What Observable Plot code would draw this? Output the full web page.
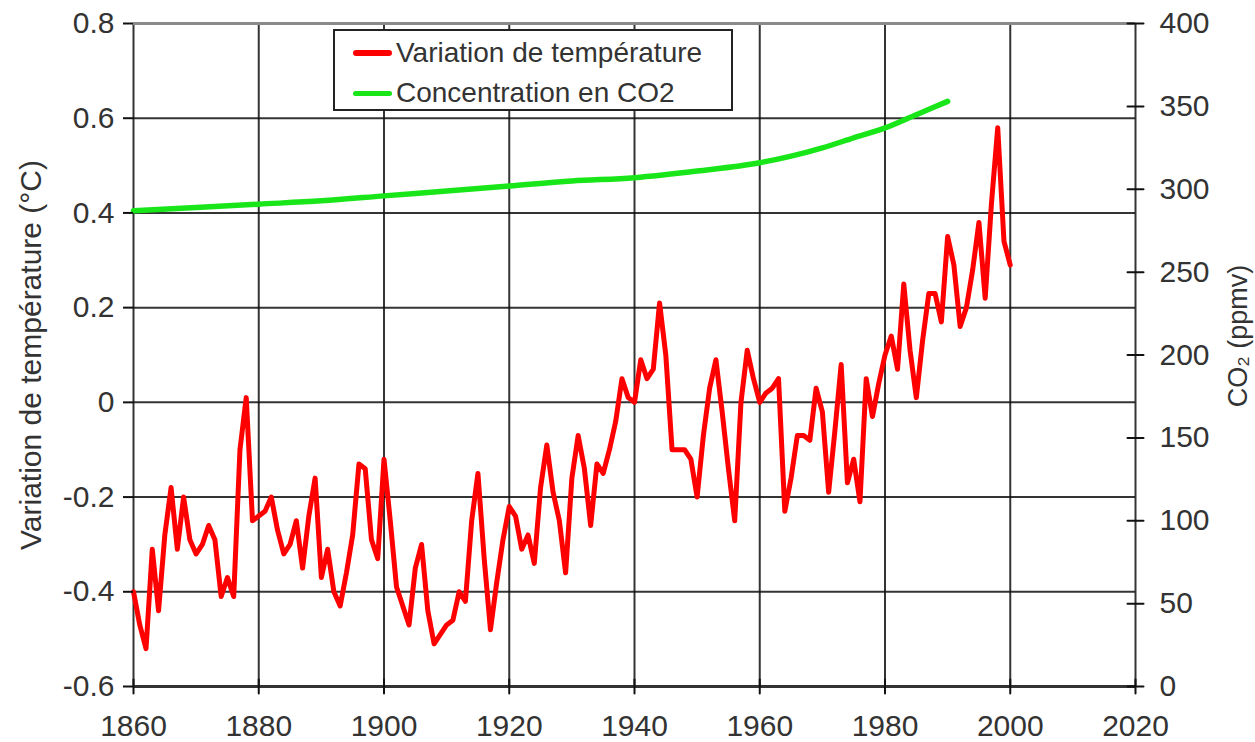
<!DOCTYPE html>
<html>
<head>
<meta charset="utf-8">
<script src="https://cdn.jsdelivr.net/npm/d3@7"></script>
<script src="https://cdn.jsdelivr.net/npm/@observablehq/plot@0.6"></script>
<style>
  body { margin: 0; background: #fff; }
  #wrap { position: relative; width: 1255px; height: 742px; }
  #legend {
    position: absolute; left: 333px; top: 29px; width: 400px; height: 82px;
    box-sizing: border-box; border: 2px solid #222; background: #fff;
    font-family: "Liberation Sans", Arial, sans-serif; font-size: 28px; color: #333;
  }
  .row { position: absolute; left: 18px; display: flex; align-items: center; height: 30px; white-space: nowrap; }
  .sw { width: 39px; height: 5px; margin-right: 4px; border-radius: 3px; }
</style>
</head>
<body>
<div id="wrap">
  <div id="chart"></div>
  <div id="legend">
    <div class="row" style="top:7px"><span class="sw" style="background:#ff0000;height:6px"></span><span id="l1"></span></div>
    <div class="row" style="top:47px"><span class="sw" style="background:#19e619"></span><span id="l2"></span></div>
  </div>
</div>
<script>
// ---- data ----
const tempStartYear = 1860;
const temperature = [
  -0.40,-0.47,-0.52,-0.31,-0.44,-0.28,-0.18,-0.31,-0.20,-0.29,
  -0.32,-0.30,-0.26,-0.29,-0.41,-0.37,-0.41,-0.10, 0.01,-0.25,
  -0.24,-0.23,-0.20,-0.27,-0.32,-0.30,-0.25,-0.35,-0.24,-0.16,
  -0.37,-0.31,-0.40,-0.43,-0.36,-0.28,-0.13,-0.14,-0.29,-0.33,
  -0.12,-0.25,-0.39,-0.43,-0.47,-0.35,-0.30,-0.44,-0.51,-0.49,
  -0.47,-0.46,-0.40,-0.42,-0.25,-0.15,-0.33,-0.48,-0.38,-0.29,
  -0.22,-0.24,-0.31,-0.28,-0.34,-0.18,-0.09,-0.19,-0.25,-0.36,
  -0.16,-0.07,-0.14,-0.26,-0.13,-0.15,-0.10,-0.04, 0.05, 0.01,
   0.00, 0.09, 0.05, 0.07, 0.21, 0.10,-0.10,-0.10,-0.10,-0.12,
  -0.20,-0.07, 0.03, 0.09,-0.02,-0.14,-0.25, 0.00, 0.11, 0.05,
   0.00, 0.02, 0.03, 0.05,-0.23,-0.16,-0.07,-0.07,-0.08, 0.03,
  -0.02,-0.19,-0.06, 0.08,-0.17,-0.12,-0.21, 0.05,-0.03, 0.04,
   0.10, 0.14, 0.07, 0.25, 0.11, 0.01, 0.13, 0.23, 0.23, 0.17,
   0.35, 0.29, 0.16, 0.20, 0.28, 0.38, 0.22, 0.42, 0.58, 0.34,
   0.29
];
const co2Years  = [1860,1870,1880,1890,1900,1910,1920,1930,1940,1950,1960,1965,1970,1975,1980,1985,1990];
const co2Values = [ 287, 289, 291, 293, 296, 299, 302, 305, 307, 311, 316, 320, 325, 331, 337, 345, 353];

const xTicks   = [1860,1880,1900,1920,1940,1960,1980,2000,2020];
const yTicks   = [-0.6,-0.4,-0.2,0,0.2,0.4,0.6,0.8];
const co2Ticks = [0,50,100,150,200,250,300,350,400];

const yTitle   = "Variation de température (°C)";
const co2Title = "CO\u2082 (ppmv)";
const legendLabels = ["Variation de température", "Concentration en CO2"];

// ---- scales linking the two axes ----
const co2Max = 400, yMin = -0.6, yMax = 0.8;
const co2ToY = c => c / co2Max * (yMax - yMin) + yMin;
const yToCo2 = t => Math.round((t - yMin) / (yMax - yMin) * co2Max);

const tempData = temperature.map((v, i) => ({year: tempStartYear + i, value: v}));
const co2Data = co2Years.map((y, i) => ({year: y, value: co2ToY(co2Values[i])}));

const tickShape = { draw(context, l) { context.moveTo(0, 0); context.lineTo(0, -l); } };
const grid = {stroke: "#111", strokeWidth: 2, strokeOpacity: 0.85};

const chart = Plot.plot({
  width: 1255, height: 742,
  marginLeft: 133, marginRight: 120, marginTop: 23, marginBottom: 56,
  style: {fontFamily: '"Liberation Sans", Arial, sans-serif', fontSize: "30px", color: "#333", background: "#fff"},
  x: {domain: [1860, 2020]},
  y: {domain: [yMin, yMax]},
  marks: [
    Plot.ruleX(xTicks, grid),
    Plot.ruleY(yTicks.filter(v => v > yMin && v < yMax), grid),
    Plot.ruleY([yMax], {stroke: "#8a8a8a", strokeWidth: 3}),
    Plot.ruleY([yMin], {stroke: "#333", strokeWidth: 3}),
    Plot.line(tempData, {x: "year", y: "value", stroke: "#ff0000", strokeWidth: 5, strokeLinejoin: "round"}),
    Plot.line(co2Data, {x: "year", y: "value", stroke: "#19e619", strokeWidth: 5.5, curve: "monotone-x"}),
    Plot.axisY(yTicks, {tickSize: 10, tickPadding: 9, stroke: "#111", strokeWidth: 2, label: null,
      tickFormat: d => d === 0 ? "0" : d.toFixed(1)}),
    Plot.axisY(co2Ticks.map(co2ToY), {anchor: "right", tickSize: 0, tickPadding: 24, label: null,
      tickFormat: t => String(yToCo2(t))}),
    Plot.vector(co2Ticks.map(co2ToY), {y: d => d, frameAnchor: "right", rotate: 90, length: 16,
      anchor: "middle", shape: tickShape, stroke: "#111", strokeWidth: 2}),
    Plot.axisX(xTicks, {tickSize: 0, tickPadding: 28, label: null, tickFormat: d => String(d)}),
    Plot.vector(xTicks, {x: d => d, frameAnchor: "bottom", rotate: 0, length: 14,
      anchor: "middle", shape: tickShape, stroke: "#111", strokeWidth: 2}),
    Plot.text([yTitle], {frameAnchor: "left", dx: -102, rotate: -90, textAnchor: "middle", fontSize: 30, fill: "#333"}),
    Plot.text([co2Title], {frameAnchor: "right", dx: 103, dy: -19, rotate: -90, textAnchor: "middle", fontSize: 27, fill: "#333"})
  ]
});
document.getElementById("chart").appendChild(chart);
document.getElementById("l1").textContent = legendLabels[0];
document.getElementById("l2").textContent = legendLabels[1];
</script>
</body>
</html>
